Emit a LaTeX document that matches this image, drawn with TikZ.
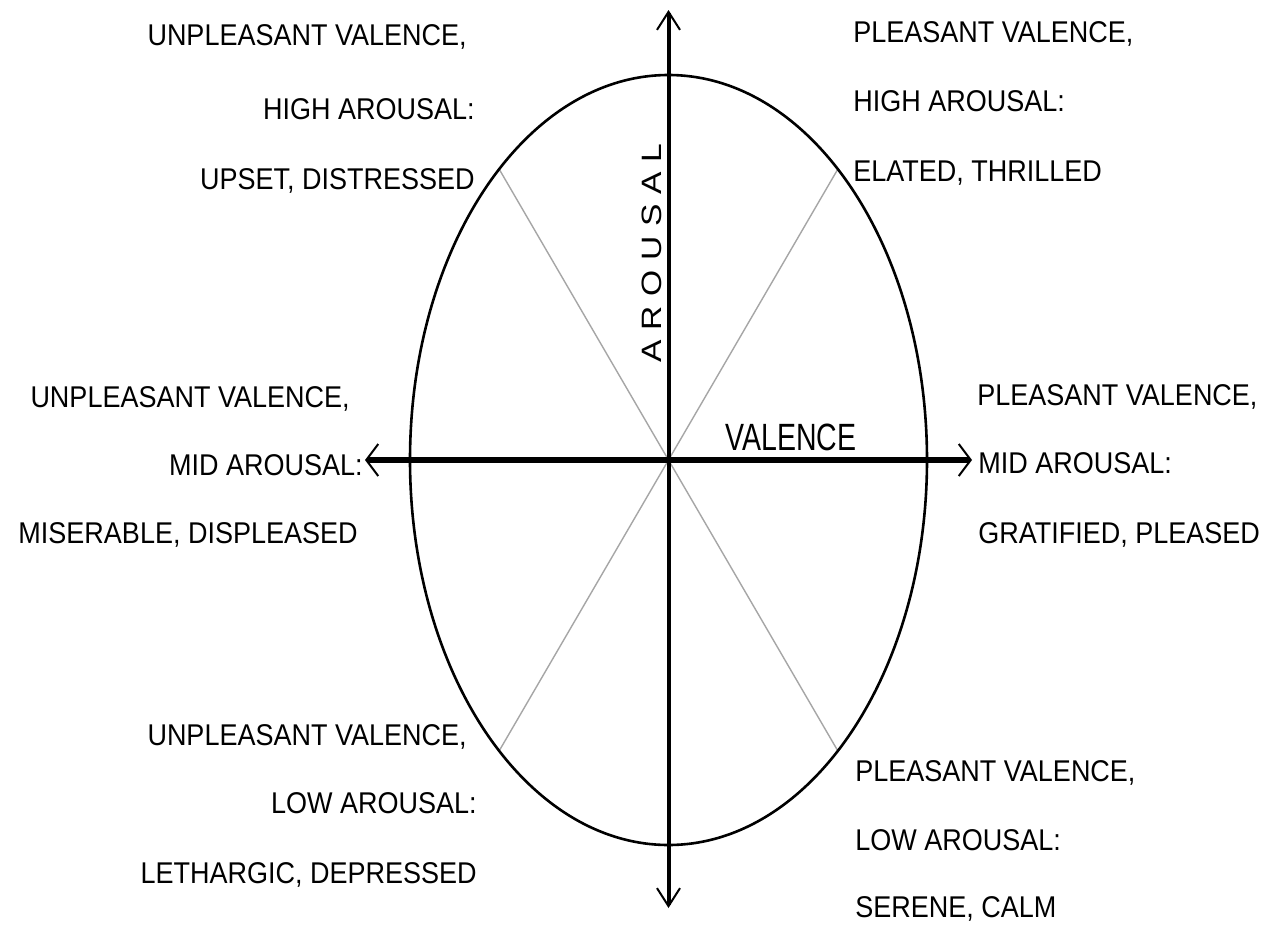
\documentclass[tikz,border=0pt]{standalone}
\usepackage{fontspec}
\usepackage{graphicx}
\setmainfont{Liberation Sans}
\usetikzlibrary{arrows.meta}
\newcommand{\sxq}[1]{\scalebox{0.9}[1]{#1}}
\newcommand{\lsp}{\hspace{4pt}}
\tikzset{
  lbl/.style={font=\fontsize{15}{15}\selectfont, inner sep=0pt},
  vaxis/.style={line width=2pt, {Straight Barb[length=9pt,width=11.5pt,line width=1pt]}-{Straight Barb[length=9pt,width=11.5pt,line width=1pt]}},
  haxis/.style={line width=2.6pt, {Straight Barb[length=6pt,width=16pt,line width=1pt]}-{Straight Barb[length=6pt,width=16pt,line width=1pt]}},
  spoke/.style={line width=0.7pt, draw=black!35},
  rim/.style={line width=1.3pt}
}
\begin{document}
\begin{tikzpicture}[x=0.5pt,y=-0.5pt]
\useasboundingbox (0,0) rectangle (1276,928);
\fill[white] (0,0) rectangle (1276,928);
\coordinate (O) at (668.5,460);
\coordinate (top) at (668.5,10);
\coordinate (bot) at (668.5,908);
\coordinate (lft) at (365,460);
\coordinate (rgt) at (972,460);
% spokes to the rim
\path (O) ++(131:258.5 and 386) coordinate (pUL);
\path (O) ++(49:258.5 and 386) coordinate (pUR);
\path (O) ++(-131:258.5 and 386) coordinate (pLL);
\path (O) ++(-49:258.5 and 386) coordinate (pLR);
\draw[spoke] (O) -- (pUL);
\draw[spoke] (O) -- (pUR);
\draw[spoke] (O) -- (pLL);
\draw[spoke] (O) -- (pLR);
\draw[rim] (O) ellipse [x radius=258.5, y radius=385];
\draw[vaxis] (bot) -- (top);
\draw[haxis] (lft) -- (rgt);
% axis labels
\node[lbl, font=\fontsize{14}{14}\selectfont, rotate=90, anchor=base] (arousal) at (661,253) {\scalebox{1.2}[1]{A\lsp R\lsp O\lsp U\lsp S\lsp A\lsp L}};
\node[lbl, font=\fontsize{19}{19}\selectfont, anchor=base west] (valence) at (725,450) {\scalebox{0.75}[1]{VALENCE}};
% upper left
\node[lbl, anchor=base east] (ul1) at (467,45) {\sxq{UNPLEASANT VALENCE,}};
\node[lbl, anchor=base east] (ul2) at (475,119) {\sxq{HIGH AROUSAL:}};
\node[lbl, anchor=base east] (ul3) at (475,189) {\sxq{UPSET, DISTRESSED}};
% upper right
\node[lbl, anchor=base west] (ur1) at (853,42) {\sxq{PLEASANT VALENCE,}};
\node[lbl, anchor=base west] (ur2) at (853,111) {\sxq{HIGH AROUSAL:}};
\node[lbl, anchor=base west] (ur3) at (853,181) {\sxq{ELATED, THRILLED}};
% mid left
\node[lbl, anchor=base east] (ml1) at (350,407) {\sxq{UNPLEASANT VALENCE,}};
\node[lbl, anchor=base east] (ml2) at (363,475) {\sxq{MID AROUSAL:}};
\node[lbl, anchor=base east] (ml3) at (358,543) {\sxq{MISERABLE, DISPLEASED}};
% mid right
\node[lbl, anchor=base west] (mr1) at (977,405) {\sxq{PLEASANT VALENCE,}};
\node[lbl, anchor=base west] (mr2) at (978,473) {\sxq{MID AROUSAL:}};
\node[lbl, anchor=base west] (mr3) at (978,543) {\sxq{GRATIFIED, PLEASED}};
% lower left
\node[lbl, anchor=base east] (ll1) at (467,745) {\sxq{UNPLEASANT VALENCE,}};
\node[lbl, anchor=base east] (ll2) at (477,813) {\sxq{LOW AROUSAL:}};
\node[lbl, anchor=base east] (ll3) at (477,883) {\sxq{LETHARGIC, DEPRESSED}};
% lower right
\node[lbl, anchor=base west] (lr1) at (855,781) {\sxq{PLEASANT VALENCE,}};
\node[lbl, anchor=base west] (lr2) at (855,850) {\sxq{LOW AROUSAL:}};
\node[lbl, anchor=base west] (lr3) at (855,917) {\sxq{SERENE, CALM}};
\end{tikzpicture}
\end{document}
